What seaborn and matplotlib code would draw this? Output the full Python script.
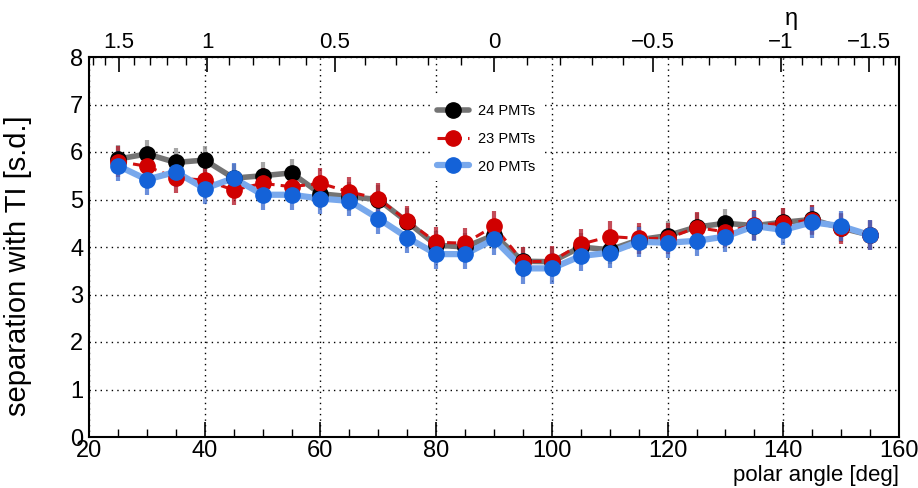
import numpy as np
import matplotlib
matplotlib.use("Agg")
import matplotlib.pyplot as plt
from matplotlib.ticker import MultipleLocator, FixedLocator
from matplotlib.lines import Line2D
import seaborn as sns

sns.set_style("white")
plt.rcParams['font.family'] = ['Liberation Sans Narrow', 'Liberation Sans', 'DejaVu Sans']
plt.rcParams['text.color'] = 'black'
plt.rcParams['axes.labelcolor'] = 'black'
plt.rcParams['xtick.color'] = 'black'
plt.rcParams['ytick.color'] = 'black'

# polar angle bins [deg]
angle = [25, 30, 35, 40, 45, 50, 55, 60, 65, 70, 75, 80, 85, 90,
         95, 100, 105, 110, 115, 120, 125, 130, 135, 140, 145, 150, 155]

pmt24 = [5.85, 5.96, 5.78, 5.83, 5.45, 5.50, 5.56, 5.12, 5.06, 5.00, 4.53, 4.04, 4.00, 4.25,
         3.70, 3.69, 4.00, 3.94, 4.15, 4.24, 4.42, 4.50, 4.45, 4.52, 4.58, 4.40, 4.25]
pmt23 = [5.80, 5.70, 5.45, 5.41, 5.20, 5.34, 5.27, 5.34, 5.16, 5.02, 4.55, 4.10, 4.08, 4.44,
         3.69, 3.70, 4.06, 4.22, 4.18, 4.18, 4.41, 4.32, 4.46, 4.50, 4.57, 4.39, 4.25]
pmt20 = [5.71, 5.42, 5.58, 5.23, 5.45, 5.10, 5.10, 5.02, 4.97, 4.60, 4.20, 3.85, 3.85, 4.16,
         3.55, 3.55, 3.81, 3.88, 4.11, 4.09, 4.13, 4.22, 4.44, 4.36, 4.52, 4.44, 4.25]

err24 = [0.30, 0.30, 0.30, 0.30, 0.30, 0.30, 0.30, 0.30, 0.30, 0.30, 0.30, 0.30, 0.30, 0.30,
         0.30, 0.30, 0.30, 0.30, 0.30, 0.30, 0.30, 0.30, 0.30, 0.30, 0.30, 0.30, 0.30]
err23 = [0.32, 0.32, 0.32, 0.32, 0.32, 0.32, 0.32, 0.32, 0.32, 0.32, 0.32, 0.32, 0.32, 0.32,
         0.32, 0.32, 0.32, 0.32, 0.32, 0.32, 0.32, 0.32, 0.32, 0.32, 0.32, 0.32, 0.32]
err20 = [0.32, 0.32, 0.32, 0.32, 0.32, 0.32, 0.32, 0.32, 0.32, 0.32, 0.32, 0.32, 0.32, 0.32,
         0.32, 0.32, 0.32, 0.32, 0.32, 0.32, 0.32, 0.32, 0.32, 0.32, 0.32, 0.32, 0.32]

labels = ["24 PMTs", "23 PMTs", "20 PMTs"]
eta_major = [1.5, 1, 0.5, 0, -0.5, -1, -1.5]
eta_labels = ["1.5", "1", "0.5", "0", "\u22120.5", "\u22121", "\u22121.5"]


def eta_to_theta(eta):
    return np.degrees(2 * np.arctan(np.exp(-np.asarray(eta, dtype=float))))


fig = plt.figure(figsize=(9.18, 4.88), dpi=100)
ax = fig.add_axes([89 / 918, 1 - 437 / 488, 810 / 918, 380 / 488])

series = [
    (pmt24, err24, "black", "#747474", "#8a8a8a", "-", 4.0),
    (pmt23, err23, "#d00000", "#d01010", "#b01020", (0, (3, 2)), 2.2),
    (pmt20, err20, "#1462d8", "#78a8ec", "#3a6ad0", "-", 4.5),
]

for (vals, errs, mcol, lcol, ecol, ls, lw), lab in zip(series, labels):
    ax.errorbar(angle, vals, yerr=errs, fmt="none", ecolor=ecol, elinewidth=3.0,
                alpha=0.75, capsize=0, zorder=2, linestyle=(0, (2, 1)))
    sns.lineplot(x=angle, y=vals, ax=ax, color=lcol, lw=lw, linestyle=ls, zorder=3,
                 legend=False)
    ax.plot(angle, vals, "o", color=mcol, ms=11, mec=mcol, zorder=4)

ax.set_xlim(20, 160)
ax.set_ylim(0, 8)
ax.xaxis.set_major_locator(MultipleLocator(20))
ax.xaxis.set_minor_locator(MultipleLocator(5))
ax.yaxis.set_major_locator(MultipleLocator(1))
ax.yaxis.set_minor_locator(MultipleLocator(0.2))
ax.grid(True, which="major", color="black", lw=1.0, linestyle=(0, (1, 3)))
ax.tick_params(axis="both", which="major", direction="in", length=11, width=1.2,
               labelsize=17, top=False, right=False)
ax.tick_params(axis="both", which="minor", direction="in", length=6, width=1.0,
               top=False, right=False)
ax.tick_params(axis="x", which="major", pad=2)
ax.tick_params(axis="y", which="major", pad=4)
for s in ax.spines.values():
    s.set_color("black")
    s.set_linewidth(1.5)

ax.set_xlabel("polar angle [deg]", fontsize=16, loc="right", labelpad=2)
ax.set_ylabel("separation with TI [s.d.]", fontsize=21, labelpad=6)
ax.yaxis.set_label_coords(-0.07, 0.45)

# top eta axis
top = ax.twiny()
top.set_xlim(20, 160)
top.xaxis.set_major_locator(FixedLocator(eta_to_theta(eta_major)))
top.set_xticklabels(eta_labels)
eta_minor = [e / 10 for e in range(-17, 18)]
top.xaxis.set_minor_locator(FixedLocator(eta_to_theta(eta_minor)))
top.tick_params(axis="x", which="major", direction="in", length=11, width=1.2,
                labelsize=16, pad=3)
top.tick_params(axis="x", which="minor", direction="in", length=6, width=1.0)
top.set_xlabel("\u03b7", fontsize=17)
top.xaxis.set_label_coords(0.867, 1.085)
for s in top.spines.values():
    s.set_visible(False)

handles = [
    Line2D([], [], color="#747474", lw=4.0, marker="o", ms=11, mfc="black", mec="black"),
    Line2D([], [], color="#d01010", lw=2.2, ls=(0, (3, 2)), marker="o", ms=11,
           mfc="#d00000", mec="#d00000"),
    Line2D([], [], color="#78a8ec", lw=4.5, marker="o", ms=11, mfc="#1462d8", mec="#1462d8"),
]
leg = ax.legend(handles, labels, loc="upper left", bbox_to_anchor=(0.412, 0.915),
                frameon=True, fontsize=10.5, handlelength=2.2, labelspacing=0.95,
                borderpad=0.5, handletextpad=0.6)
leg.get_frame().set_edgecolor("none")
leg.get_frame().set_facecolor("white")
leg.get_frame().set_alpha(1.0)
leg.set_zorder(10)

fig.savefig("out.png", dpi=100)
